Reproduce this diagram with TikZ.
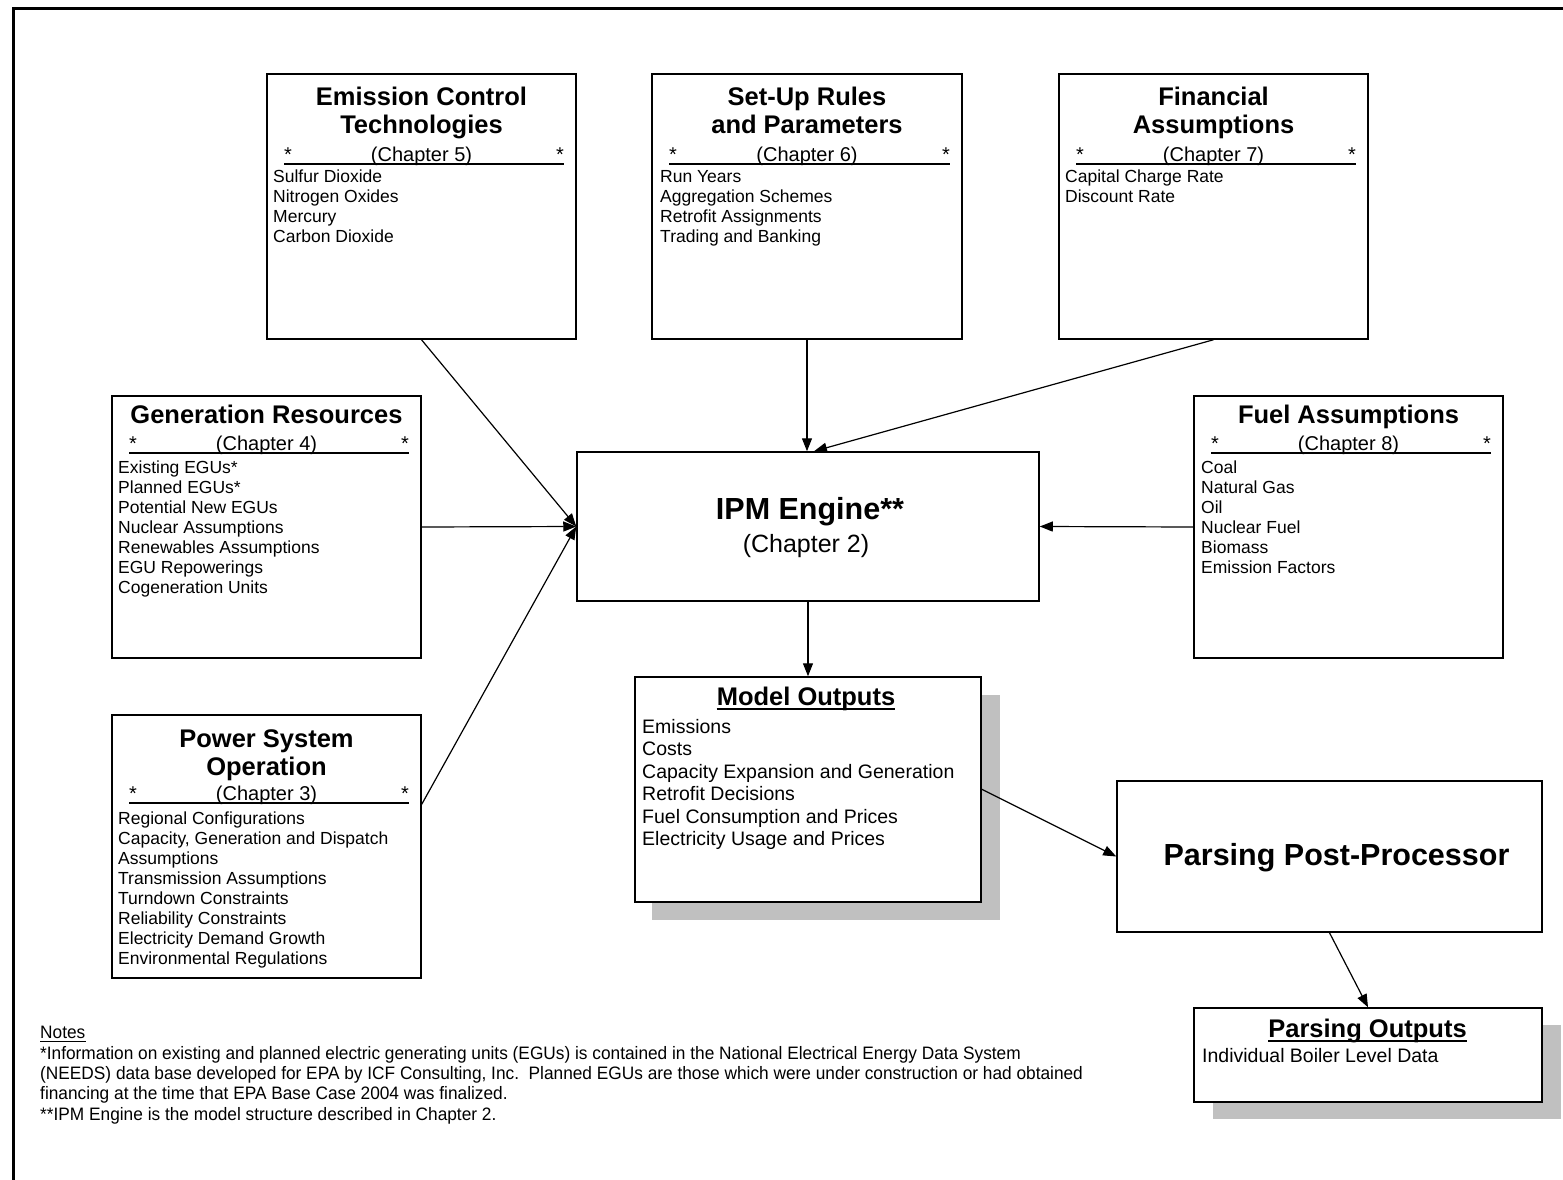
\documentclass[tikz,border=0pt]{standalone}
\usepackage{fontspec}
\setmainfont{Liberation Sans}
\newfontfamily\notesfont[FakeStretch=0.96]{Liberation Sans}
\usetikzlibrary{arrows.meta,calc}
\definecolor{shadowgray}{RGB}{192,192,192}
\tikzset{
  box/.style={draw=black, line width=1.5pt, fill=white, inner sep=0pt},
  shadowbox/.style={fill=shadowgray, draw=none, inner sep=0pt},
  ttl/.style={font=\fontsize{25.5}{28}\selectfont\bfseries, inner sep=0pt, anchor=base},
  bigttl/.style={font=\fontsize{30.5}{34}\selectfont\bfseries, inner sep=0pt, anchor=base},
  chap/.style={font=\fontsize{20}{24}\selectfont, inner sep=0pt, anchor=base},
  bigchap/.style={font=\fontsize{25}{28}\selectfont, inner sep=0pt, anchor=base},
  itm/.style={font=\fontsize{17.5}{20}\selectfont, inner sep=0pt, anchor=base west},
  outitm/.style={font=\fontsize{19.5}{22}\selectfont, inner sep=0pt, anchor=base west},
  notetxt/.style={font=\notesfont\fontsize{18}{20}\selectfont, inner sep=0pt, anchor=base west},
  uline/.style={line width=1.5pt},
  conn/.style={line width=1.2pt, -{Triangle[length=13pt,width=10pt]}},
  frame/.style={line width=3pt}
}
\newcommand\chapterline[5]{%
  \node[chap] (#1-c) at ({(#2+#3)/2},#4) {#5};
  \node[chap] (#1-a) at (#2+21,#4) {*};
  \node[chap] (#1-b) at (#3-16,#4) {*};
  \draw[uline] (#2+17,#4+3) -- (#3-12,#4+3);
}
\newcommand\mkitems[6]{%
  \foreach \t [count=\i] in {#6} \node[#2] (#1-\i) at (#3,{#4+(\i-1)*#5}) {\t};
}
\begin{document}
\begin{tikzpicture}[x=1pt,y=-1pt]
\useasboundingbox (0,0) rectangle (1563,1180);
% outer frame
\draw[frame] (13.5,1181) -- (13.5,8.5) -- (1564,8.5);

% shadows
\node[shadowbox, minimum width=348pt, minimum height=225pt] (mo-sh) at (826,807.5) {};
\node[shadowbox, minimum width=348pt, minimum height=94pt] (po-sh) at (1387,1072) {};

% boxes
\node[box, minimum width=309pt, minimum height=265pt] (ect) at (421.5,206.5) {};
\node[box, minimum width=310pt, minimum height=265pt] (sur) at (807,206.5) {};
\node[box, minimum width=309pt, minimum height=265pt] (fin) at (1213.5,206.5) {};
\node[box, minimum width=309pt, minimum height=262pt] (gen) at (266.5,527) {};
\node[box, minimum width=309pt, minimum height=262pt] (fuel) at (1348.5,527) {};
\node[box, minimum width=309pt, minimum height=263pt] (pso) at (266.5,846.5) {};
\node[box, minimum width=462pt, minimum height=149pt] (ipm) at (808,526.5) {};
\node[box, minimum width=346pt, minimum height=225pt] (mo) at (808,789.5) {};
\node[box, minimum width=425pt, minimum height=151pt] (ppp) at (1329.5,856.5) {};
\node[box, minimum width=348pt, minimum height=94pt] (po) at (1368,1055) {};

% Emission Control Technologies
\node[ttl] (ect-t1) at (421.5,106) {Emission Control};
\node[ttl] (ect-t2) at (421.5,134) {Technologies};
\chapterline{ect}{267}{576}{161}{(Chapter 5)}
\mkitems{ect-i}{itm}{273}{182}{20}{Sulfur Dioxide, Nitrogen Oxides, Mercury, Carbon Dioxide}

% Set-Up Rules and Parameters
\node[ttl] (sur-t1) at (807,106) {Set-Up Rules};
\node[ttl] (sur-t2) at (807,134) {and Parameters};
\chapterline{sur}{652}{962}{161}{(Chapter 6)}
\mkitems{sur-i}{itm}{660}{182}{20}{Run Years, Aggregation Schemes, Retrofit Assignments, Trading and Banking}

% Financial Assumptions
\node[ttl] (fin-t1) at (1213.5,106) {Financial};
\node[ttl] (fin-t2) at (1213.5,134) {Assumptions};
\chapterline{fin}{1059}{1368}{161}{(Chapter 7)}
\mkitems{fin-i}{itm}{1065}{182}{20}{Capital Charge Rate, Discount Rate}

% Generation Resources
\node[ttl] (gen-t1) at (266.5,423) {Generation Resources};
\chapterline{gen}{112}{421}{450}{(Chapter 4)}
\mkitems{gen-i}{itm}{118}{473}{20}{Existing EGUs*, Planned EGUs*, Potential New EGUs, Nuclear Assumptions, Renewables Assumptions, EGU Repowerings, Cogeneration Units}

% Fuel Assumptions
\node[ttl] (fuel-t1) at (1348.5,423) {Fuel Assumptions};
\chapterline{fuel}{1194}{1503}{450}{(Chapter 8)}
\mkitems{fuel-i}{itm}{1201}{473}{20}{Coal, Natural Gas, Oil, Nuclear Fuel, Biomass, Emission Factors}

% Power System Operation
\node[ttl] (pso-t1) at (266.5,747) {Power System};
\node[ttl] (pso-t2) at (266.5,775) {Operation};
\chapterline{pso}{112}{421}{800}{(Chapter 3)}
\mkitems{pso-i}{itm}{118}{824}{20}{Regional Configurations, {Capacity, Generation and Dispatch}, Assumptions, Transmission Assumptions, Turndown Constraints, Reliability Constraints, Electricity Demand Growth, Environmental Regulations}

% IPM Engine
\node[bigttl] (ipm-t) at (810,519) {IPM Engine**};
\node[bigchap] (ipm-c) at (806,552) {(Chapter 2)};

% Model Outputs
\node[ttl] (mo-t) at (806,705) {Model Outputs};
\draw[uline] ($(mo-t.base west)+(0,4)$) -- ($(mo-t.base east)+(0,4)$);
\mkitems{mo-i}{outitm}{642}{733}{22.5}{Emissions, Costs, Capacity Expansion and Generation, Retrofit Decisions, Fuel Consumption and Prices, Electricity Usage and Prices}

% Parsing Post-Processor
\node[bigttl] (ppp-t) at (1336.5,865) {Parsing Post-Processor};

% Parsing Outputs
\node[ttl] (po-t) at (1367.5,1037) {Parsing Outputs};
\draw[uline] ($(po-t.base west)+(0,4)$) -- ($(po-t.base east)+(0,4)$);
\node[outitm] (po-i1) at (1202,1062) {Individual Boiler Level Data};

% connectors
\draw[conn] (ect.south) -- (ipm.west);
\draw[conn] (gen.east) -- (ipm.west);
\draw[conn] ($(pso.north east)+(0,90)$) -- (ipm.west);
\draw[conn] (sur.south) -- (sur.south |- ipm.north);
\draw[conn] (fin.south) -- ($(ipm.north)+(6,0)$);
\draw[conn] (fuel.west) -- (ipm.east);
\draw[conn] (ipm.south) -- (mo.north);
\draw[conn] ($(mo.north east)+(0,113)$) -- (ppp.west);
\draw[conn] (ppp.south) -- (po.north);

% notes
\node[notetxt] (notes-h) at (40,1038) {Notes};
\draw[line width=1pt] ($(notes-h.base west)+(0,3)$) -- ($(notes-h.base east)+(0,3)$);
\node[notetxt] (notes-1) at (40,1059) {*Information on existing and planned electric generating units (EGUs) is contained in the National Electrical Energy Data System};
\node[notetxt] (notes-2) at (40,1079) {(NEEDS) data base developed for EPA by ICF Consulting, Inc.\ \ Planned EGUs are those which were under construction or had obtained};
\node[notetxt] (notes-3) at (40,1099) {financing at the time that EPA Base Case 2004 was finalized.};
\node[notetxt] (notes-4) at (40,1120) {**IPM Engine is the model structure described in Chapter 2.};
\end{tikzpicture}
\end{document}
